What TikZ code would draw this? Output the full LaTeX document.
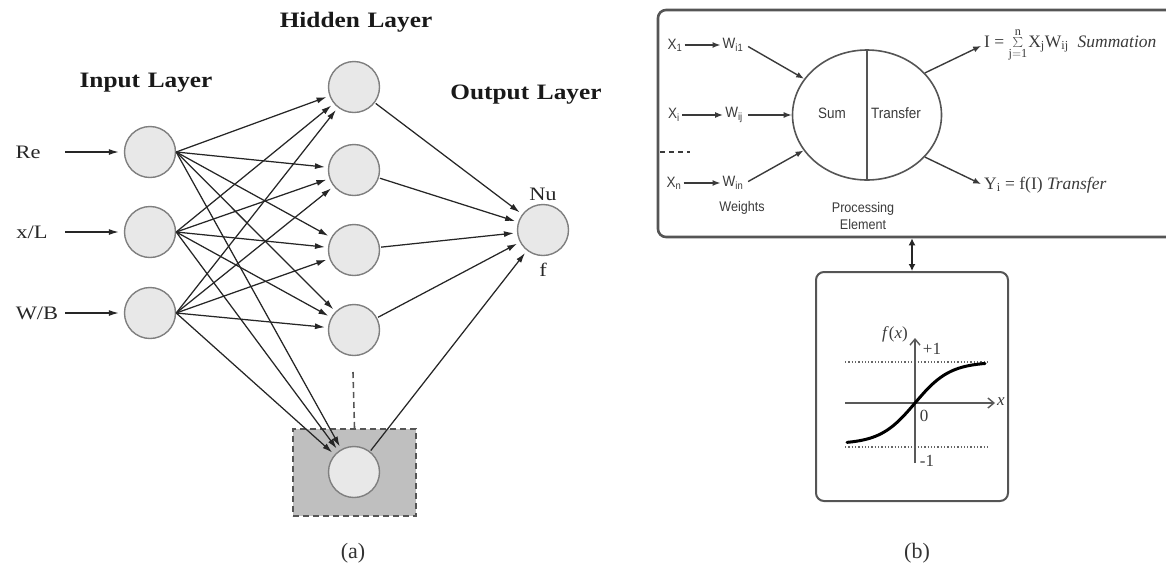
\documentclass[tikz,border=0pt]{standalone}
\usepackage{fontspec}
\setmainfont{Liberation Serif}
\newfontfamily\leftserif[FakeStretch=1.18]{Liberation Serif}
\newfontfamily\titleserif[FakeStretch=1.15]{Liberation Serif}
\newfontfamily\panelsans[FakeStretch=0.9]{Liberation Sans}
\usetikzlibrary{arrows.meta,shapes.geometric}

\definecolor{ringgray}{HTML}{7F7F7F}
\definecolor{cellfill}{HTML}{E8E8E8}
\definecolor{boxfill}{HTML}{BFBFBF}
\definecolor{framegray}{HTML}{555555}
\definecolor{inkgray}{HTML}{3A3A3A}

\tikzset{
  neuron/.style={circle, draw=ringgray, fill=cellfill, line width=1.4pt,
                 minimum size=51pt, inner sep=0pt},
  link/.style={draw=black!85, line width=1.25pt,
               -{Latex[length=10pt,width=6pt]}, shorten >=3pt},
  title/.style={font=\titleserif\bfseries\fontsize{22}{24}\selectfont, text=black!90},
  lbl/.style={font=\leftserif\fontsize{19}{22}\selectfont, text=black!85},
  ptext/.style={font=\panelsans\fontsize{15}{17}\selectfont, text=inkgray, inner sep=2pt},
  parrow/.style={draw=inkgray, line width=1.4pt, -{Latex[length=8pt,width=6pt]}},
  formula/.style={font=\fontsize{17.5}{20}\selectfont, text=inkgray, inner sep=1pt},
  axislbl/.style={font=\fontsize{17}{19}\selectfont, text=inkgray, inner sep=1pt},
  caption/.style={font=\fontsize{22}{24}\selectfont, text=black!80},
  frame/.style={draw=framegray, rounded corners=8pt, inner sep=0pt},
}

\begin{document}
\begin{tikzpicture}[x=1pt,y=-1pt]
\useasboundingbox (0,0) rectangle (1166,574);

% ---------------- (a) network ----------------
\node[title] (tin)  at (146,83)  {Input\hspace{0.35em}Layer};
\node[title] (thid) at (356,22)  {Hidden\hspace{0.35em}Layer};
\node[title] (tout) at (526,95)  {Output\hspace{0.35em}Layer};

% shaded last hidden unit
\node[draw=framegray, dash pattern=on 6pt off 4pt, line width=1.6pt, fill=boxfill,
      minimum width=123pt, minimum height=87pt, inner sep=0pt] (box5) at (354.5,472.5) {};
\coordinate (dtop) at (353,372);
\draw[draw=framegray, dash pattern=on 6pt off 4pt, line width=1.6pt] (dtop) -- (box5.north);

% input layer
\node[neuron] (i1) at (150,152) {};
\node[neuron] (i2) at (150,232) {};
\node[neuron] (i3) at (150,313) {};

% hidden layer
\node[neuron] (h1) at (354,87) {};
\node[neuron] (h2) at (354,170) {};
\node[neuron] (h3) at (354,250) {};
\node[neuron] (h4) at (354,330) {};
\node[neuron] (h5) at (354,472) {};

% output
\node[neuron] (o) at (543,230) {};
\node[lbl] (nu) at (543,194) {Nu};
\node[lbl] (fo) at (543,270) {f};

% input labels and their arrows
\node[lbl] (lre) at (28,152)  {Re};
\node[lbl] (lxl) at (32,232)  {x/L};
\node[lbl] (lwb) at (37,313)  {W/B};
\coordinate (a1) at (65,152);
\coordinate (a2) at (65,232);
\coordinate (a3) at (65,313);
\draw[link, shorten >=5pt] (a1) -- (i1);
\draw[link, shorten >=5pt] (a2) -- (i2);
\draw[link, shorten >=5pt] (a3) -- (i3);

% fully connected input -> hidden
\foreach \i in {1,2,3}
  \foreach \h in {1,...,5}
    \draw[link] (i\i.east) -- (h\h);

% hidden -> output
\foreach \h in {1,...,5}
  \draw[link, shorten <=1pt] (h\h) -- (o);

\node[caption] (capa) at (353,553) {(a)};

% ---------------- (b) processing element ----------------
\node[frame, line width=2.6pt, minimum width=517pt, minimum height=227pt] (pebox) at (916.5,123.5) {};

\node[ellipse, draw=framegray, line width=1.6pt, minimum width=149pt,
      minimum height=130pt, inner sep=0pt] (pe) at (867,115) {};
\draw[draw=framegray, line width=1.6pt] (pe.north) -- (pe.south);
\node[ptext] (sum) at (832,113) {Sum};
\node[ptext] (tra) at (896,113) {Transfer};

% inputs and weights
\node[ptext] (x1)  at (675,45)  {X\textsubscript{1}};
\node[ptext] (w11) at (733,45)  {W\textsubscript{i1}};
\node[ptext] (xi)  at (674,115) {X\textsubscript{i}};
\node[ptext] (wij) at (734,115) {W\textsubscript{ij}};
\node[ptext] (xn)  at (674,183) {X\textsubscript{n}};
\node[ptext] (wn1) at (733,183) {W\textsubscript{in}};
\draw[parrow] (x1) -- (w11);
\draw[parrow] (xi) -- (wij);
\draw[parrow] (xn) -- (wn1);
\draw[parrow, shorten <=3pt] (w11.east) -- (pe);
\draw[parrow, shorten <=3pt] (wij.east) -- (pe);
\draw[parrow, shorten <=3pt] (wn1.east) -- (pe);

\coordinate (dl) at (660,152);
\coordinate (dr) at (690,152);
\draw[draw=inkgray, line width=1.3pt, dash pattern=on 5pt off 4pt] (dl) -- (dr);

\node[ptext, font=\panelsans\fontsize{14}{16}\selectfont] (wts) at (742,208) {Weights};
\node[ptext, align=center, font=\panelsans\fontsize{14}{17}\selectfont] (pel) at (863,216) {Processing\\Element};

% outputs
\node[formula, anchor=west] (sumf) at (983,45)
  {I = $\sum\limits_{\mathrm{j=1}}^{\mathrm{n}}$\kern1pt X\textsubscript{j}W\textsubscript{ij}\hspace{9pt}\textit{Summation}};
\node[formula, anchor=west] (trf) at (983,185)
  {Y\textsubscript{i} = f(I) \textit{Transfer}};
\draw[parrow, shorten >=2pt] (pe.36) -- (sumf.west);
\draw[parrow, shorten >=2pt] (pe.-36) -- (trf.west);

% transfer function panel
\node[frame, line width=2pt, minimum width=192pt, minimum height=229pt] (sigbox) at (912,386.5) {};
\draw[draw=black!85, line width=1.8pt, {Latex[length=7pt,width=7pt]}-{Latex[length=7pt,width=7pt]}]
  (sigbox.north) -- (sigbox.north |- pebox.south);

\coordinate (xl) at (845,403);
\coordinate (xr) at (995,403);
\coordinate (yb) at (915,463);
\coordinate (yt) at (915,338);
\coordinate (p1l) at (845,362);
\coordinate (p1r) at (987,362);
\coordinate (m1l) at (845,447);
\coordinate (m1r) at (987,447);
\draw[draw=gray!80!black, line width=1.3pt, dotted] (p1l) -- (p1r);
\draw[draw=gray!80!black, line width=1.3pt, dotted] (m1l) -- (m1r);
\draw[draw=gray!70!black, line width=1.4pt, -{Straight Barb[length=6pt,width=10pt]}] (xl) -- (xr);
\draw[draw=gray!70!black, line width=1.4pt, -{Straight Barb[length=6pt,width=10pt]}] (yb) -- (yt);
\draw[line width=3pt, line cap=round]
  plot[domain=847:985, samples=70, smooth] (\x,{403-41*tanh((\x-915)/35)});

\node[axislbl] (fx)  at (895,334) {\textit{f}(\textit{x})};
\node[axislbl] (pl1) at (932,349) {+1};
\node[axislbl] (z0)  at (924,416) {0};
\node[axislbl] (mn1) at (927,461) {-1};
\node[axislbl] (xx)  at (1001,402) {\textit{x}};

\node[caption] (capb) at (917,553) {(b)};
\end{tikzpicture}
\end{document}
